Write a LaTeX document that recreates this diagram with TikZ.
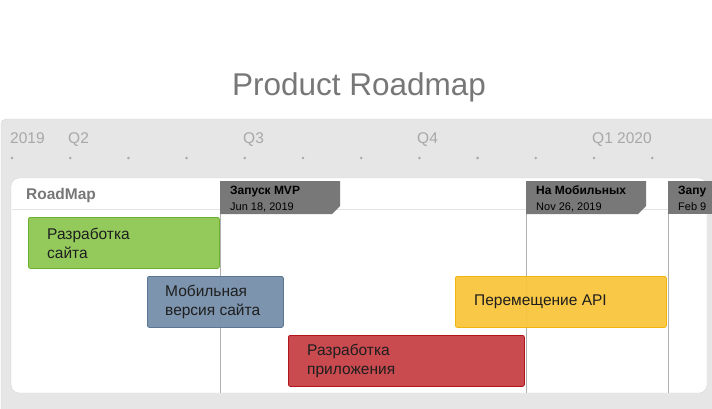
\documentclass[tikz,border=0pt]{standalone}
\usepackage{fontspec}
\setmainfont{Liberation Sans}
\usepackage{tikz}

\definecolor{titlegray}{HTML}{777777}
\definecolor{axisgray}{HTML}{A8A8A8}
\definecolor{panelgray}{HTML}{E6E6E6}
\definecolor{panelline}{HTML}{D4D4D4}
\definecolor{headline}{HTML}{E4E4E4}
\definecolor{flaggray}{HTML}{787878}
\definecolor{linegray}{HTML}{B0B0B0}
\definecolor{barink}{HTML}{1E1E1E}
\definecolor{sitegreen}{HTML}{8EC752}
\definecolor{sitegreenline}{HTML}{6CB02E}
\definecolor{mobblue}{HTML}{758EA9}
\definecolor{mobblueline}{HTML}{5B7694}
\definecolor{appred}{HTML}{C63F45}
\definecolor{appredline}{HTML}{B3141C}
\definecolor{apiyellow}{HTML}{F9C53B}
\definecolor{apiyellowline}{HTML}{F2B40E}

\begin{document}
\begin{tikzpicture}[x=1pt, y=-1pt,
  bar/.style={draw, rounded corners=2pt, line width=0.8pt, fill opacity=0.94,
    anchor=north west, inner sep=0pt},
  bartext/.style={anchor=west, align=left, text=barink, inner sep=0pt,
    font=\fontsize{15.5}{19}\selectfont},
  tick/.style={anchor=base west, text=axisgray, inner sep=0pt,
    font=\fontsize{15.5}{18}\selectfont},
  flagtitle/.style={anchor=base west, inner sep=0pt,
    font=\bfseries\fontsize{12}{14}\selectfont},
  flagdate/.style={anchor=base west, inner sep=0pt,
    font=\fontsize{11}{13}\selectfont},
  mline/.style={draw=linegray, line width=0.8pt}]
\clip (0,0) rectangle (712,408);

\node (title) [anchor=base, text=titlegray, inner sep=0pt,
  font=\fontsize{31.5}{36}\selectfont] at (359,95) {Product Roadmap};

\filldraw[fill=panelgray, draw=panelline, rounded corners=5pt] (1,119) rectangle (730,430);

\node (y2019) [tick] at (10,143) {2019};
\node (q2) [tick] at (68,143) {Q2};
\node (q3) [tick] at (243,143) {Q3};
\node (q4) [tick] at (417,143) {Q4};
\node (q1) [tick] at (592,143) {Q1 2020};
\foreach \i in {0,...,11}
  \fill[axisgray] (12+58.2*\i,158) circle (1.4pt);

\filldraw[fill=white, draw=panelline, rounded corners=8pt] (11,178) rectangle (707,393);
\draw[headline, line width=0.8pt] (11.5,209) -- (706.5,209);
\node (roadmap) [anchor=base west, text=titlegray, inner sep=0pt,
  font=\bfseries\fontsize{15.5}{18}\selectfont] at (26,199.5) {RoadMap};

\coordinate (mvptop) at (220,214);
\coordinate (mvpbot) at (220,393);
\coordinate (mobtop) at (526,214);
\coordinate (mobbot) at (526,393);
\coordinate (nexttop) at (668,214);
\coordinate (nextbot) at (668,393);
\draw[mline] (mvptop) -- (mvpbot);
\draw[mline] (mobtop) -- (mobbot);
\draw[mline] (nexttop) -- (nextbot);

\fill[flaggray] (220,181) -- (340,181) -- (340,206) -- (332,214) -- (220,214) -- cycle;
\fill[flaggray] (526,181) -- (646,181) -- (646,206) -- (638,214) -- (526,214) -- cycle;
\fill[flaggray] (668,181) rectangle (720,214);
\node (mvptitle) [flagtitle] at (230,194.5) {Запуск MVP};
\node (mvpdate) [flagdate] at (230,210.3) {Jun 18, 2019};
\node (mobtitle) [flagtitle] at (536,194.5) {На Мобильных};
\node (mobdate) [flagdate] at (536,210.3) {Nov 26, 2019};
\node (nexttitle) [flagtitle] at (678,194.5) {Запу};
\node (nextdate) [flagdate] at (678,210.3) {Feb 9};

\node (site) [bar, draw=sitegreenline, fill=sitegreen,
  minimum width=191pt, minimum height=51pt] at (28,217) {};
\node (mobile) [bar, draw=mobblueline, fill=mobblue,
  minimum width=136pt, minimum height=51pt] at (147,276) {};
\node (app) [bar, draw=appredline, fill=appred,
  minimum width=236pt, minimum height=51pt] at (288,335) {};
\node (api) [bar, draw=apiyellowline, fill=apiyellow,
  minimum width=211pt, minimum height=51pt] at (455,276) {};

\node (sitetext) [bartext] at ([xshift=19pt]site.west) {Разработка\\сайта};
\node (mobiletext) [bartext] at ([xshift=18pt]mobile.west) {Мобильная\\версия сайта};
\node (apptext) [bartext] at ([xshift=19pt]app.west) {Разработка\\приложения};
\node (apitext) [bartext] at ([xshift=19pt]api.west) {Перемещение API};
\end{tikzpicture}
\end{document}
